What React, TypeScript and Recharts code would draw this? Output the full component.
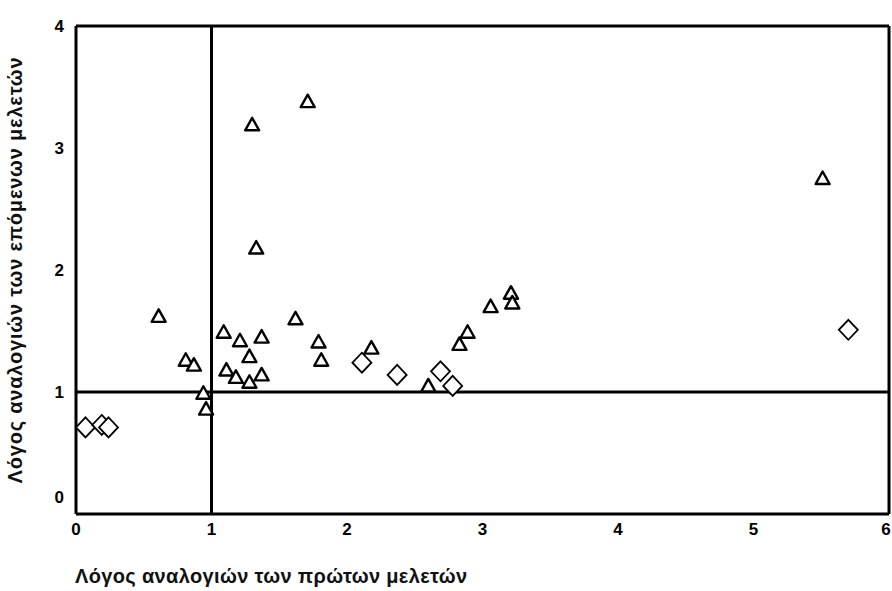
import React from 'react';
import { ScatterChart, Scatter, XAxis, YAxis, ReferenceLine, Label } from 'recharts';

// ratios
const triangleX = [1.71, 1.3, 1.33, 5.51, 0.61, 0.81, 0.87, 0.94, 0.96, 1.09, 1.21, 1.37, 1.28, 1.11, 1.18, 1.28, 1.37, 1.62, 1.79, 1.81, 2.18, 2.89, 2.83, 3.06, 3.21, 3.22, 2.6];
const triangleY = [3.38, 3.19, 2.18, 2.75, 1.62, 1.26, 1.22, 0.99, 0.86, 1.49, 1.42, 1.45, 1.29, 1.18, 1.12, 1.08, 1.14, 1.6, 1.41, 1.26, 1.36, 1.49, 1.39, 1.7, 1.81, 1.73, 1.05];
const diamondX = [2.11, 2.37, 2.69, 2.78, 5.7, 0.07, 0.19, 0.24];
const diamondY = [1.24, 1.14, 1.17, 1.05, 1.51, 0.71, 0.73, 0.71];

const xTicks = [0, 1, 2, 3, 4, 5, 6];
const yTicks = [0, 1, 2, 3, 4];

const xTitle = 'Λόγος αναλογιών των πρώτων μελετών';
const yTitle = 'Λόγος αναλογιών των επόμενων μελετών';

const triangles = triangleX.map((x, i) => ({ x, y: triangleY[i] }));
const diamonds = diamondX.map((x, i) => ({ x, y: diamondY[i] }));

const font = '"Liberation Sans", Arial, sans-serif';
const tickStyle = { fill: '#000', fontSize: 17, fontWeight: 700, fontFamily: font };

const XTick = (props: any) => {
  const { x, y, payload } = props;
  // keep the last label inside the picture
  const nudge = payload.value === 6 ? -3 : 0;
  return (
    <text x={x + nudge} y={y + 13} textAnchor="middle" {...tickStyle}>
      {payload.value}
    </text>
  );
};

const YTick = (props: any) => {
  const { x, y, payload } = props;
  // the zero label sits a little above the axis so it does not clash with the x zero
  const shift = payload.value === 0 ? -17 : 0;
  return (
    <text x={x} y={y + shift} textAnchor="end" dominantBaseline="central" {...tickStyle}>
      {payload.value}
    </text>
  );
};

const Triangle = (props: any) => {
  const { cx, cy } = props;
  return (
    <polygon
      points={`${cx},${cy - 7} ${cx - 7},${cy + 5.5} ${cx + 7},${cy + 5.5}`}
      fill="#fff"
      stroke="#000"
      strokeWidth={2.4}
      strokeLinejoin="round"
    />
  );
};

const Diamond = (props: any) => {
  const { cx, cy } = props;
  return (
    <polygon
      points={`${cx},${cy - 10} ${cx + 9.5},${cy} ${cx},${cy + 10} ${cx - 9.5},${cy}`}
      fill="#fff"
      stroke="#000"
      strokeWidth={1.8}
    />
  );
};

export default function App() {
  return (
    <div style={{ position: 'absolute', left: 0, top: 0, background: '#fff' }}>
      <ScatterChart width={892} height={591} margin={{ top: 26, right: 3, bottom: 17, left: 0 }}>
        <XAxis
          type="number"
          dataKey="x"
          domain={[0, 6]}
          ticks={xTicks}
          interval={0}
          tickLine={false}
          tickMargin={2}
          height={60}
          axisLine={{ stroke: '#000', strokeWidth: 3 }}
          tick={<XTick />}
        >
          <Label
            content={(p: any) => {
              const { x, y } = p.viewBox;
              return (
                <text
                  x={x - 1}
                  y={y + 69}
                  fill="#111"
                  fontSize={20}
                  fontWeight={700}
                  letterSpacing={0.35}
                  fontFamily={font}
                >
                  {xTitle}
                </text>
              );
            }}
          />
        </XAxis>
        <YAxis
          type="number"
          dataKey="y"
          domain={[0, 4]}
          ticks={yTicks}
          interval={0}
          width={76}
          tickLine={false}
          tickMargin={6}
          axisLine={{ stroke: '#000', strokeWidth: 3 }}
          tick={<YTick />}
        >
          <Label
            content={(p: any) => {
              const { y, height } = p.viewBox;
              const cy = y + height / 2;
              return (
                <text
                  x={15}
                  y={cy}
                  transform={`rotate(-90, 15, ${cy})`}
                  textAnchor="middle"
                  dominantBaseline="central"
                  fill="#111"
                  fontSize={20}
                  fontWeight={700}
                  letterSpacing={0.8}
                  fontFamily={font}
                >
                  {yTitle}
                </text>
              );
            }}
          />
        </YAxis>
        <ReferenceLine x={1} stroke="#000" strokeWidth={3} />
        <ReferenceLine y={1} stroke="#000" strokeWidth={3} />
        <ReferenceLine x={6} stroke="#000" strokeWidth={3} />
        <ReferenceLine y={4} stroke="#000" strokeWidth={3} />
        <Scatter data={triangles} shape={Triangle} isAnimationActive={false} />
        <Scatter data={diamonds} shape={Diamond} isAnimationActive={false} />
      </ScatterChart>
    </div>
  );
}
